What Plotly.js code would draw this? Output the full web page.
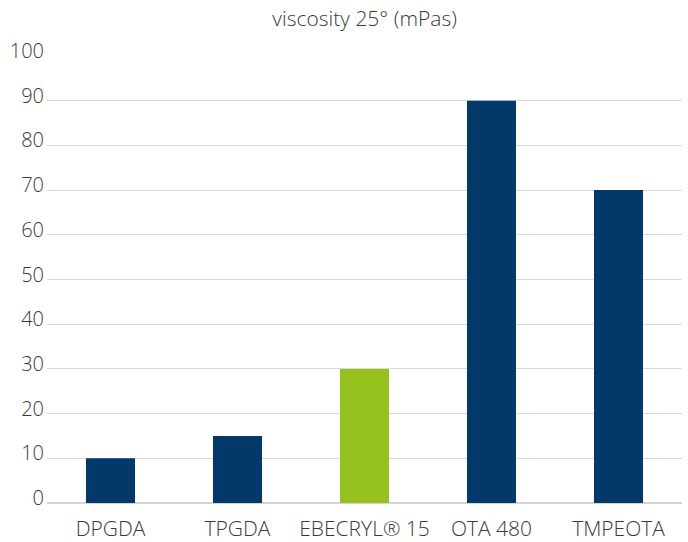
<!DOCTYPE html>
<html>
<head>
<meta charset="utf-8">
<script src="https://cdn.plot.ly/plotly-3.0.1.min.js"></script>
<style>html,body{margin:0;padding:0;background:#fff;}#chart{width:688px;height:542px;}</style>
</head>
<body>
<div id="chart"></div>
<script>
const categories = ["DPGDA", "TPGDA", "EBECRYL® 15", "OTA 480", "TMPEOTA"];
const viscosity = [10, 15, 30, 90, 70];
const barColors = ["#03386A", "#03386A", "#95C11F", "#03386A", "#03386A"];
const yTicks = [0, 10, 20, 30, 40, 50, 60, 70, 80, 90, 100];

const fontFam = '"Open Sans", "Noto Sans", sans-serif';
const txtColor = "#3a3a3a";
const trace = {
  type: "bar",
  x: categories,
  y: viscosity,
  marker: {color: barColors},
  hoverinfo: "x+y"
};
const layout = {
  width: 688, height: 542,
  margin: {l: 47, r: 6, t: 56, b: 39},
  paper_bgcolor: "#fff", plot_bgcolor: "#fff",
  bargap: 0.614,
  showlegend: false,
  title: {text: "viscosity 25° (mPas)", x: 0.53, xanchor: "center", y: 0.965, yanchor: "middle",
          font: {family: fontFam, size: 21, color: txtColor, weight: 300}},
  font: {family: fontFam, color: txtColor},
  xaxis: {type: "category", showgrid: false, zeroline: false, showline: false, ticks: "",
          tickfont: {family: fontFam, size: 21, color: txtColor, weight: 300}, ticklabelstandoff: 11},
  yaxis: {range: [0, 100], tickvals: yTicks, ticktext: yTicks.map(String),
          showgrid: true, gridcolor: "#d9d9d9", gridwidth: 1,
          zeroline: true, zerolinecolor: "#d4d4d4", zerolinewidth: 1.5,
          showline: false, ticks: "", ticklabelshift: -5, ticklabelstandoff: 2,
          tickfont: {family: fontFam, size: 20, color: txtColor, weight: 300}}
};
Plotly.newPlot("chart", [trace], layout, {displayModeBar: false, staticPlot: true});
</script>
</body>
</html>
